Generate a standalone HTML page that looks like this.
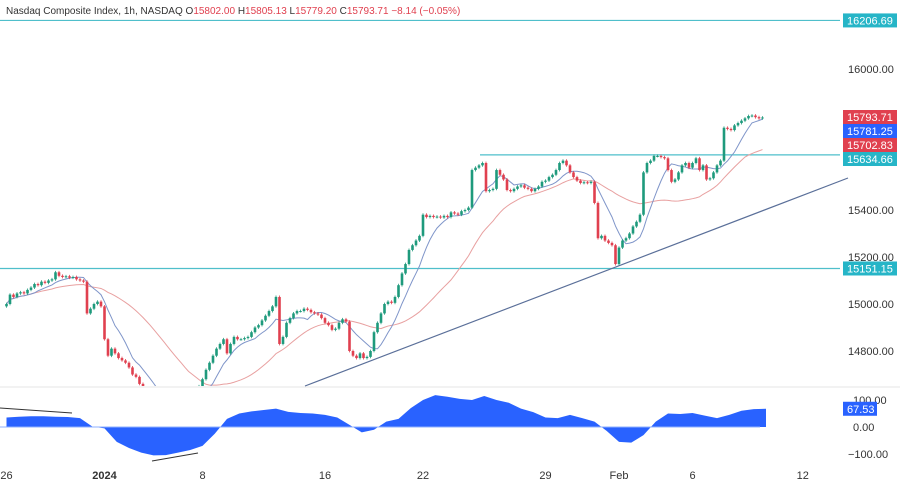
<!DOCTYPE html>
<html><head><meta charset="utf-8"><style>
body{margin:0;background:#fff;width:900px;height:483px;overflow:hidden;font-family:"Liberation Sans",sans-serif}
svg text{font-family:"Liberation Sans",sans-serif}
</style></head><body>
<svg id="c" width="900" height="483" xmlns="http://www.w3.org/2000/svg">
<text x="6" y="14" font-size="10" fill="#333">Nasdaq Composite Index, 1h, NASDAQ  <tspan fill="#333">O</tspan><tspan fill="#e0404f">15802.00</tspan>  <tspan fill="#333">H</tspan><tspan fill="#e0404f">15805.13</tspan>  <tspan fill="#333">L</tspan><tspan fill="#e0404f">15779.20</tspan>  <tspan fill="#333">C</tspan><tspan fill="#e0404f">15793.71</tspan>  <tspan fill="#e0404f">−8.14 (−0.05%)</tspan></text>
<defs><clipPath id="p1"><rect x="0" y="0" width="840" height="386"/></clipPath></defs>
<g id="pane1" clip-path="url(#p1)"></g>
<line x1="0" y1="387" x2="900" y2="387" stroke="#e6e6e6"/>
<g id="pane2"></g>
<g id="axis"></g>
</svg>
<script>
const closes=[
15000,15040,15030,15045,15050,15045,15060,
15070,15085,15080,15095,15090,15100,15105,
15135,15120,15115,15118,15112,15115,15105,
15100,15095,14960,14980,15000,15010,14990,
14850,14780,14810,14790,14770,14760,14750,
14730,14700,14690,14660,14640,14620,14600,
14580,14560,14590,14570,14550,14560,14570,
14580,14600,14560,14590,14610,14630,14650,
14680,14720,14750,14780,14810,14830,14850,
14790,14830,14860,14850,14850,14855,14860,
14880,14900,14910,14930,14950,14970,14990,
15030,14830,14860,14920,14940,14960,14970,
14970,14980,14975,14965,14960,14955,14940,
14920,14910,14890,14895,14920,14935,14925,
14800,14780,14770,14790,14770,14775,14800,
14880,14920,14960,15000,15010,15005,15030,
15080,15130,15170,15230,15250,15270,15290,
15380,15370,15375,15370,15372,15368,15375,
15370,15390,15385,15380,15395,15400,15410,
15570,15580,15590,15600,15480,15485,15490,
15570,15550,15530,15485,15480,15490,15500,
15505,15495,15490,15480,15490,15500,15520,
15525,15540,15550,15570,15600,15610,15590,
15560,15540,15525,15515,15518,15515,15520,
15430,15280,15290,15270,15260,15250,15170,
15240,15270,15280,15300,15330,15350,15380,
15560,15600,15610,15630,15630,15625,15620,
15570,15520,15530,15560,15590,15600,15580,
15600,15620,15570,15590,15530,15535,15560,
15590,15610,15750,15745,15740,15760,15770,
15780,15790,15800,15802,15795,15790,15793.71];
const osc=[35,38,40,40,38,37,33,2,-5,-55,-78,-95,-105,-104,-95,-85,-70,-25,30,50,58,63,68,56,52,50,45,35,8,-20,-10,20,30,70,100,118,112,104,100,115,100,90,68,55,35,33,45,33,20,-15,-55,-58,-30,20,50,48,52,42,33,45,60,66,67.53];
const priceTicks=[16000,15400,15200,15000,14800];
const oscTicks=[100,0,-100];
const timeLabels=["26","2024","8","16","22","29","Feb","6","12"];
const timeLabelDays=[0,4,8,13,17,22,25,28,32.5];
const levels=[16206.69,15634.66,15151.15];
const NS="http://www.w3.org/2000/svg";
const SP=3.5, X0=6.5;
const xb=i=>X0+i*SP;
const yp=p=>69+(16000-p)*0.235;
const yo=v=>427-v*0.27;
function mk(tag,attrs,parent){const e=document.createElementNS(NS,tag);for(const k in attrs)e.setAttribute(k,attrs[k]);parent.appendChild(e);return e;}
const p1=document.getElementById('pane1'),p2=document.getElementById('pane2'),ax=document.getElementById('axis');
levels.forEach((lv,j)=>{const l=mk('line',{x1:j==1?480:0,x2:840,y1:yp(lv),y2:yp(lv),stroke:'#4fbfcb','stroke-width':1.2},p1);

});
const tl=mk('line',{x1:305,y1:386,x2:848,y2:178,stroke:'#5a6f99','stroke-width':1.2},document.getElementById('c'));


function sma(n){return closes.map((c,i)=>{const s=Math.max(0,i-n+1);let t=0;for(let k=s;k<=i;k++)t+=closes[k];return t/(i-s+1);});}
[[sma(30),'#e8a0a0'],[sma(9),'#7f95c9']].forEach((m,j)=>{const pl=mk('polyline',{points:m[0].map((v,i)=>xb(i)+','+yp(v)).join(' '),fill:'none',stroke:m[1],'stroke-width':1},p1);

});
closes.forEach((c,i)=>{const o=i?closes[i-1]:c-10;const up=c>=o;const col=up?'#1e9a7c':'#e0404f';
const hi=Math.max(o,c)+6,lo=Math.min(o,c)-6;
const g=mk('g',{},p1);


mk('line',{x1:xb(i),x2:xb(i),y1:yp(hi),y2:yp(lo),stroke:col,'stroke-width':0.8},g);
const t=yp(Math.max(o,c)),h=Math.max(1,yp(Math.min(o,c))-t);
mk('rect',{x:xb(i)-1.3,y:t,width:2.6,height:h,fill:col},g);});
let d='M'+xb(0)+','+yo(0);osc.forEach((v,k)=>{d+=' L'+xb(k*SP)+','+yo(v);});d+=' L'+xb((osc.length-1)*SP)+','+yo(0)+' Z';
const ar=mk('path',{d:d,fill:'#2962ff'},p2);


const zl=mk('line',{x1:0,x2:760,y1:yo(0),y2:yo(0),stroke:'#8fb0ff','stroke-width':1},p2);


const dv1=mk('line',{x1:0,y1:408,x2:72,y2:413,stroke:'#333','stroke-width':1},p2);


const dv2=mk('line',{x1:152,y1:461,x2:198,y2:453,stroke:'#333','stroke-width':1},p2);


priceTicks.forEach(p=>{const t=mk('text',{x:848,y:yp(p)+4,'font-size':11,fill:'#333'},ax);t.textContent=p.toFixed(2);

});
oscTicks.forEach(v=>{const t=mk('text',{x:v<0?848:853,y:yo(v)+4,'font-size':11,fill:'#333'},ax);t.textContent=(v<0?'−':'')+Math.abs(v).toFixed(2);

});
timeLabels.forEach((s,j)=>{const t=mk('text',{x:X0+timeLabelDays[j]*7*SP,y:479,'font-size':11,fill:'#333','text-anchor':'middle','font-weight':s=='2024'?'bold':'normal'},ax);t.textContent=s;

});
const badges=[[16206.69,'#26b5c7',yp(16206.69)],[15793.71,'#e0404f',117],[15781.25,'#2962ff',131],[15702.83,'#e0404f',145],[15634.66,'#26b5c7',159],[15151.15,'#26b5c7',yp(15151.15)]];
badges.forEach(b=>{const g=mk('g',{},ax);


mk('rect',{x:843,y:b[2]-7,width:54,height:14,fill:b[1]},g);
const t=mk('text',{x:847,y:b[2]+4,'font-size':11,fill:'#fff'},g);t.textContent=b[0].toFixed(2);});
const ob=mk('g',{},ax);


mk('rect',{x:843,y:yo(67.53)-7,width:34,height:14,fill:'#2962ff'},ob);
const ot=mk('text',{x:847,y:yo(67.53)+4,'font-size':11,fill:'#fff'},ob);ot.textContent='67.53';
</script>
</body></html>
